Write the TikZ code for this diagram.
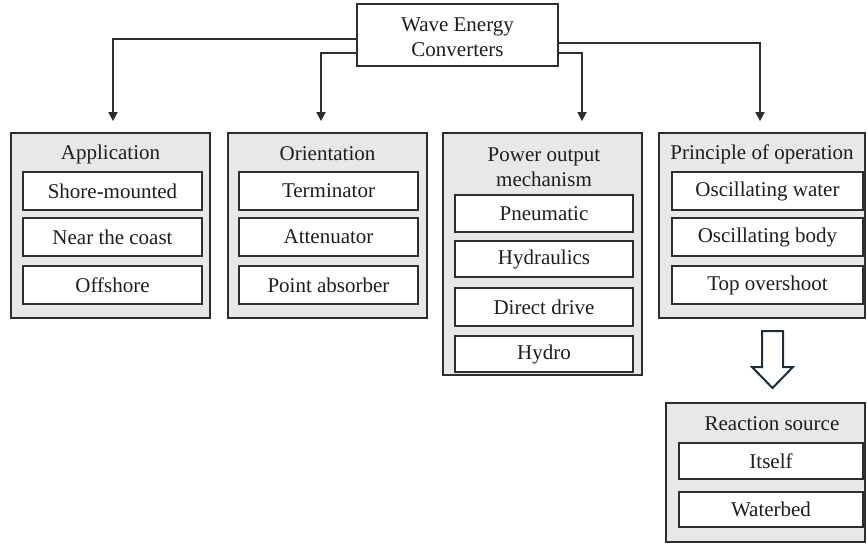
\documentclass[tikz,border=0pt]{standalone}
\usepackage{fontspec}
\setmainfont{Liberation Serif}
\usetikzlibrary{arrows.meta}
\definecolor{edge}{HTML}{2E2E2E}
\definecolor{grp}{HTML}{E8E8E8}
\definecolor{ink}{HTML}{1E1E1E}
\definecolor{navy}{HTML}{1C2E3C}
\begin{document}
\begin{tikzpicture}[x=1pt,y=-1pt,
  every node/.style={font=\fontsize{21}{25}\selectfont, text=ink},
  grpbox/.style={draw=edge, line width=1.8pt, fill=grp, inner sep=0pt, rectangle},
  itembox/.style={draw=edge, line width=2pt, fill=white, inner sep=0pt, rectangle},
  topbox/.style={draw=edge, line width=1.8pt, fill=white, inner sep=0pt, rectangle, align=center},
  conn/.style={draw=edge, line width=1.7pt, -{Triangle[width=9pt,length=9pt]}},
  ttl/.style={inner sep=0pt, align=center}
]
\useasboundingbox (0,0) rectangle (867,545);

% top box
\node[topbox, minimum width=201pt, minimum height=62pt] (top) at (457.5,35) {};
\node[ttl] (toptxt) at (457.5,37) {Wave Energy\\Converters};

% group boxes
\node[grpbox, minimum width=199pt, minimum height=185pt] (app) at (110.5,225.5) {};
\node[grpbox, minimum width=199pt, minimum height=185pt] (ori) at (327.5,225.5) {};
\node[grpbox, minimum width=199pt, minimum height=242pt] (pow) at (542.5,254) {};
\node[grpbox, minimum width=206pt, minimum height=185pt] (pri) at (762,225.5) {};
\node[grpbox, minimum width=199pt, minimum height=139pt] (rea) at (765.5,472.5) {};

% titles
\node[ttl] (appt) at (110.5,154) {Application};
\node[ttl] (orit) at (327.5,154) {Orientation};
\node[ttl] (powt) at (544,167) {Power output\\mechanism};
\node[ttl] (prit) at (762,154) {Principle of operation};
\node[ttl] (reat) at (772,424) {Reaction source};

% application items
\node[itembox, minimum width=179pt, minimum height=38pt] (a1) at (112.5,191) {Shore-mounted};
\node[itembox, minimum width=179pt, minimum height=38pt] (a2) at (112.5,237) {Near the coast};
\node[itembox, minimum width=179pt, minimum height=38pt] (a3) at (112.5,285) {Offshore};

% orientation items
\node[itembox, minimum width=179pt, minimum height=38pt] (o1) at (328.5,191) {Terminator};
\node[itembox, minimum width=179pt, minimum height=38pt] (o2) at (328.5,237) {Attenuator};
\node[itembox, minimum width=179pt, minimum height=38pt] (o3) at (328.5,285) {Point absorber};

% power items
\node[itembox, minimum width=178pt, minimum height=37pt] (p1) at (544,213.5) {Pneumatic};
\node[itembox, minimum width=178pt, minimum height=36pt] (p2) at (544,259) {Hydraulics};
\node[itembox, minimum width=178pt, minimum height=38pt] (p3) at (544,307) {Direct drive};
\node[itembox, minimum width=178pt, minimum height=36pt] (p4) at (544,354) {Hydro};

% principle items
\node[itembox, minimum width=191pt, minimum height=38pt] (r1) at (767.5,191) {Oscillating water};
\node[itembox, minimum width=191pt, minimum height=38pt] (r2) at (767.5,237) {Oscillating body};
\node[itembox, minimum width=191pt, minimum height=38pt] (r3) at (767.5,285) {Top overshoot};

% reaction items
\node[itembox, minimum width=184pt, minimum height=36pt] (s1) at (771,461) {Itself};
\node[itembox, minimum width=184pt, minimum height=35pt] (s2) at (771,509.5) {Waterbed};

% connectors
\draw[conn] ([yshift=-4pt]top.west) -| ([xshift=2.5pt,yshift=11pt]app.north);
\draw[conn] ([yshift=-18pt]top.west) -| ([xshift=-6.5pt,yshift=11pt]ori.north);
\draw[conn] ([yshift=-18pt]top.east) -| ([xshift=39.5pt,yshift=11pt]pow.north);
\draw[conn] ([yshift=-8pt]top.east) -| ([xshift=-2pt,yshift=11pt]pri.north);

% hollow arrow
\draw[navy, line width=2pt, fill=white, line join=miter]
  (762,331) -- (783,331) -- (783,367) -- (793,367) -- (772.5,388) -- (752,367) -- (762,367) -- cycle;
\end{tikzpicture}
\end{document}
